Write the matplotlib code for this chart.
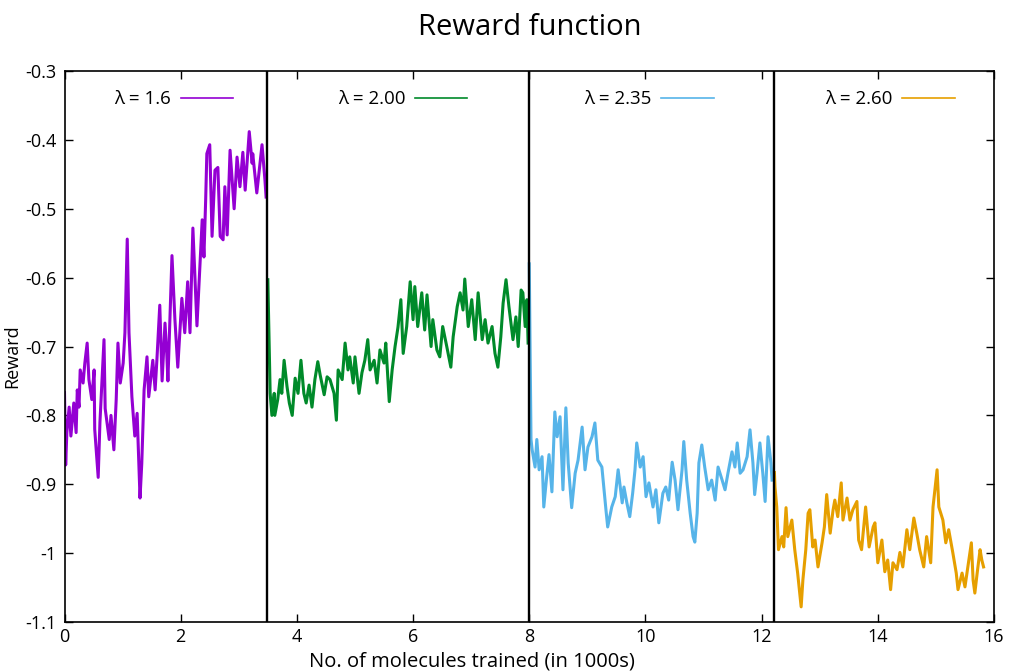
import matplotlib
matplotlib.use('Agg')
import matplotlib.pyplot as plt
from matplotlib.lines import Line2D
from matplotlib.legend import Legend

plt.rcParams['font.family'] = ['Open Sans', 'DejaVu Sans']

# x in 1000s of molecules, y = reward
x_l16 = [0.00, 0.02, 0.04, 0.08, 0.11, 0.16, 0.20, 0.22, 0.25, 0.27, 0.32, 0.35, 0.39, 0.42, 0.47,
         0.51, 0.52, 0.58, 0.61, 0.68, 0.70, 0.77, 0.80, 0.85, 0.89, 0.92, 0.96, 1.01, 1.04, 1.08,
         1.11, 1.16, 1.21, 1.25, 1.30, 1.33, 1.37, 1.42, 1.45, 1.52, 1.56, 1.59, 1.64, 1.68, 1.73,
         1.76, 1.78, 1.85, 1.90, 1.95, 2.02, 2.07, 2.12, 2.16, 2.21, 2.28, 2.37, 2.40, 2.43, 2.45,
         2.50, 2.54, 2.59, 2.64, 2.68, 2.73, 2.76, 2.80, 2.85, 2.92, 2.97, 3.02, 3.07, 3.11, 3.18,
         3.23, 3.24, 3.31, 3.40, 3.45, 3.47]
y_l16 = [-0.767, -0.872, -0.825, -0.788, -0.830, -0.782, -0.825, -0.763, -0.788, -0.734, -0.753,
         -0.724, -0.695, -0.748, -0.777, -0.734, -0.820, -0.890, -0.810, -0.690, -0.790, -0.835,
         -0.800, -0.850, -0.777, -0.695, -0.753, -0.724, -0.680, -0.544, -0.680, -0.773, -0.830,
         -0.797, -0.920, -0.870, -0.763, -0.715, -0.773, -0.720, -0.763, -0.720, -0.640, -0.750,
         -0.666, -0.710, -0.750, -0.568, -0.660, -0.730, -0.630, -0.680, -0.606, -0.680, -0.528,
         -0.670, -0.516, -0.570, -0.487, -0.420, -0.407, -0.540, -0.444, -0.440, -0.540, -0.545,
         -0.468, -0.538, -0.415, -0.500, -0.425, -0.468, -0.418, -0.473, -0.388, -0.434, -0.420,
         -0.477, -0.407, -0.458, -0.483]

x_l200 = [3.50, 3.54, 3.57, 3.61, 3.62, 3.67, 3.71, 3.74, 3.78, 3.83, 3.87, 3.92, 3.97, 4.02, 4.07,
          4.12, 4.16, 4.21, 4.26, 4.31, 4.36, 4.40, 4.47, 4.52, 4.57, 4.64, 4.68, 4.71, 4.78, 4.83,
          4.88, 4.91, 4.97, 5.00, 5.07, 5.12, 5.17, 5.22, 5.26, 5.33, 5.38, 5.43, 5.50, 5.53, 5.59,
          5.64, 5.69, 5.74, 5.79, 5.83, 5.89, 5.95, 6.00, 6.03, 6.08, 6.15, 6.20, 6.24, 6.31, 6.34,
          6.41, 6.46, 6.51, 6.58, 6.65, 6.69, 6.76, 6.81, 6.86, 6.89, 6.95, 7.01, 7.07, 7.12, 7.19,
          7.24, 7.29, 7.36, 7.41, 7.46, 7.51, 7.55, 7.60, 7.65, 7.72, 7.77, 7.81, 7.86, 7.89, 7.93,
          7.96, 7.98]
y_l200 = [-0.603, -0.768, -0.800, -0.768, -0.800, -0.777, -0.748, -0.768, -0.720, -0.758, -0.782,
          -0.800, -0.746, -0.768, -0.720, -0.768, -0.782, -0.756, -0.788, -0.748, -0.722, -0.741,
          -0.770, -0.744, -0.748, -0.768, -0.807, -0.734, -0.748, -0.695, -0.734, -0.715, -0.753,
          -0.715, -0.768, -0.738, -0.720, -0.690, -0.734, -0.720, -0.753, -0.705, -0.724, -0.695,
          -0.780, -0.734, -0.700, -0.672, -0.632, -0.710, -0.671, -0.606, -0.661, -0.613, -0.671,
          -0.622, -0.676, -0.625, -0.700, -0.661, -0.705, -0.715, -0.671, -0.700, -0.730, -0.686,
          -0.642, -0.622, -0.647, -0.602, -0.671, -0.632, -0.690, -0.622, -0.690, -0.661, -0.695,
          -0.671, -0.710, -0.730, -0.686, -0.637, -0.603, -0.642, -0.690, -0.657, -0.700, -0.618,
          -0.622, -0.671, -0.632, -0.695]

x_l235 = [8.00, 8.03, 8.05, 8.10, 8.13, 8.17, 8.22, 8.25, 8.30, 8.34, 8.39, 8.44, 8.48, 8.53, 8.58,
          8.63, 8.67, 8.73, 8.79, 8.84, 8.91, 8.96, 9.01, 9.08, 9.13, 9.18, 9.25, 9.32, 9.35, 9.42,
          9.48, 9.53, 9.60, 9.63, 9.68, 9.73, 9.78, 9.82, 9.85, 9.91, 9.96, 10.01, 10.06, 10.13,
          10.18, 10.23, 10.30, 10.35, 10.40, 10.46, 10.51, 10.56, 10.63, 10.66, 10.71, 10.77, 10.82,
          10.85, 10.89, 10.92, 10.97, 11.02, 11.08, 11.14, 11.20, 11.25, 11.32, 11.37, 11.42, 11.49,
          11.54, 11.58, 11.63, 11.68, 11.75, 11.80, 11.85, 11.88, 11.92, 11.97, 12.02, 12.06, 12.11,
          12.16, 12.18]
y_l235 = [-0.580, -0.835, -0.850, -0.875, -0.835, -0.879, -0.860, -0.933, -0.889, -0.857, -0.911,
          -0.795, -0.831, -0.802, -0.908, -0.789, -0.869, -0.934, -0.884, -0.865, -0.817, -0.879,
          -0.846, -0.831, -0.811, -0.865, -0.875, -0.937, -0.962, -0.933, -0.918, -0.879, -0.927,
          -0.904, -0.927, -0.947, -0.913, -0.879, -0.840, -0.875, -0.860, -0.918, -0.898, -0.933,
          -0.908, -0.956, -0.913, -0.904, -0.923, -0.868, -0.894, -0.937, -0.879, -0.838, -0.894,
          -0.942, -0.976, -0.984, -0.942, -0.869, -0.843, -0.875, -0.908, -0.894, -0.923, -0.875,
          -0.894, -0.908, -0.884, -0.853, -0.875, -0.840, -0.884, -0.879, -0.860, -0.821, -0.869,
          -0.915, -0.884, -0.840, -0.884, -0.925, -0.831, -0.869, -0.894]

x_l260 = [12.22, 12.23, 12.26, 12.29, 12.35, 12.38, 12.42, 12.45, 12.52, 12.57, 12.62, 12.68, 12.71,
          12.76, 12.80, 12.83, 12.88, 12.92, 12.97, 13.04, 13.08, 13.12, 13.18, 13.23, 13.26, 13.31,
          13.37, 13.40, 13.47, 13.52, 13.57, 13.64, 13.67, 13.72, 13.79, 13.85, 13.92, 13.95, 14.00,
          14.07, 14.12, 14.17, 14.22, 14.26, 14.33, 14.38, 14.43, 14.50, 14.55, 14.62, 14.67, 14.72,
          14.79, 14.84, 14.91, 14.95, 15.02, 15.05, 15.12, 15.17, 15.22, 15.29, 15.35, 15.38, 15.45,
          15.50, 15.56, 15.61, 15.64, 15.67, 15.71, 15.76, 15.79, 15.82]
y_l260 = [-0.883, -0.904, -0.933, -0.995, -0.976, -0.991, -0.934, -0.976, -0.952, -0.995, -1.029,
          -1.078, -1.039, -0.995, -0.942, -0.937, -0.991, -0.981, -1.020, -0.985, -0.962, -0.915,
          -0.971, -0.937, -0.923, -0.947, -0.898, -0.952, -0.920, -0.952, -0.937, -0.925, -0.981,
          -0.995, -0.933, -0.991, -0.962, -0.956, -1.014, -0.981, -1.027, -1.010, -1.053, -1.014,
          -1.024, -0.999, -1.020, -0.966, -0.995, -0.949, -0.971, -0.995, -1.020, -0.976, -1.014,
          -0.933, -0.879, -0.933, -0.952, -0.985, -0.966, -0.999, -1.029, -1.053, -1.029, -1.049,
          -1.014, -0.985, -1.039, -1.058, -1.029, -0.995, -1.010, -1.020]

labels = ['λ = 1.6', 'λ = 2.00', 'λ = 2.35', 'λ = 2.60']
colors = ['#9400d3', '#008a2a', '#56b4e9', '#e69f00']
switch_points = [3.48, 7.99, 12.21]
legend_centers = [1.88, 5.82, 10.06, 14.21]

y_ticks = [-0.3, -0.4, -0.5, -0.6, -0.7, -0.8, -0.9, -1.0, -1.1]
y_tick_labels = ['-0.3', '-0.4', '-0.5', '-0.6', '-0.7', '-0.8', '-0.9', '-1', '-1.1']
x_ticks = [0, 2, 4, 6, 8, 10, 12, 14, 16]

fig = plt.figure(figsize=(10.11, 6.72), dpi=100)
ax = fig.add_axes([0.0638, 0.0744, 0.9194, 0.8199])

series = [(x_l16, y_l16), (x_l200, y_l200), (x_l235, y_l235), (x_l260, y_l260)]
for (xs, ys), lab, col, cx in zip(series, labels, colors, legend_centers):
    ax.plot(xs, ys, color=col, lw=2.2)
    handle = Line2D([], [], color=col, lw=1.2)
    leg = Legend(ax, [handle], [lab], loc='center', bbox_to_anchor=(cx, -0.341),
                 bbox_transform=ax.transData, frameon=False, markerfirst=False,
                 handlelength=2.8, handletextpad=0.5, fontsize=13.5)
    ax.add_artist(leg)

for sp in switch_points:
    ax.axvline(sp, color='black', lw=1.7)

ax.set_xlim(0, 16)
ax.set_ylim(-1.1, -0.3)
ax.set_xticks(x_ticks)
ax.set_yticks(y_ticks)
ax.set_yticklabels(y_tick_labels)
ax.tick_params(direction='in', length=6, width=1, top=True, right=True, labelsize=13, pad=6)
ax.tick_params(axis='x', pad=4)
for s in ax.spines.values():
    s.set_linewidth(1.2)

ax.set_title('Reward function', fontsize=21, pad=26)
ax.set_xlabel('No. of molecules trained (in 1000s)', fontsize=14.5, va='bottom')
ax.xaxis.set_label_coords(0.438, -0.0905)
ax.set_ylabel('Reward', fontsize=13)
ax.yaxis.set_label_coords(-0.046, 0.483)

fig.savefig('out.png', dpi=100)
